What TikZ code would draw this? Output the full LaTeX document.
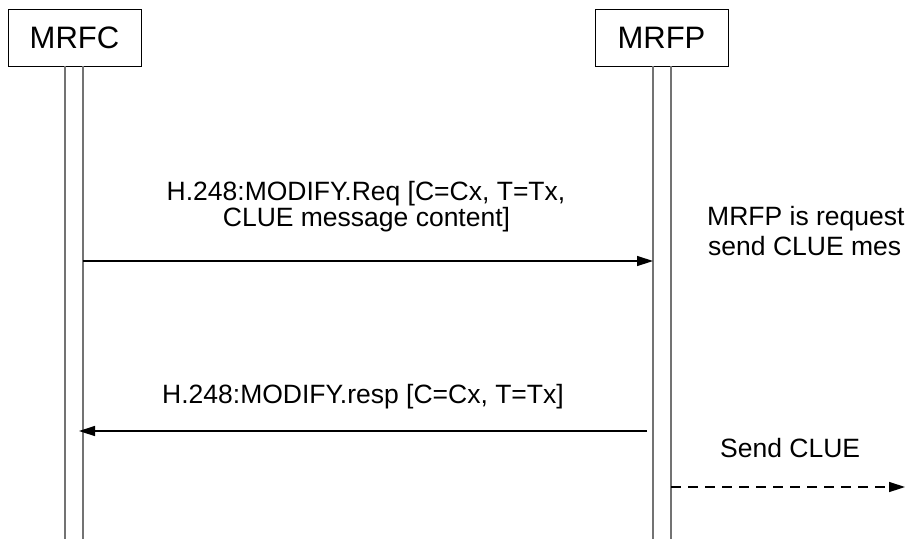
\documentclass[tikz,border=0pt]{standalone}
\usepackage{fontspec}
\setmainfont{Liberation Sans}
\usetikzlibrary{arrows.meta}
\begin{document}
\begin{tikzpicture}[x=1pt,y=-1pt,
  entity/.style={draw=black,line width=0.9pt,minimum width=133pt,minimum height=57pt,inner sep=0pt,font=\fontsize{31}{31}\selectfont},
  life/.style={draw=black!55,line width=1.3pt},
  msg/.style={draw=black,line width=1.4pt,-{Triangle[length=16pt,width=10pt]}},
  lbl/.style={inner sep=0pt,font=\fontsize{26.5}{26}\selectfont}]
\useasboundingbox (0,0) rectangle (905,539);
\begin{scope}
\clip (0,0) rectangle (905,539);
\node[entity] (mrfc) at (74.5,37.5) {MRFC};
\node[entity] (mrfp) at (661.5,37.5) {MRFP};
\coordinate (cL1) at (65,66); \coordinate (cL1b) at (65,539);
\coordinate (cR1) at (83,66); \coordinate (cR1b) at (83,539);
\coordinate (pL1) at (653,66); \coordinate (pL1b) at (653,539);
\coordinate (pR1) at (671,66); \coordinate (pR1b) at (671,539);
\draw[life] (cL1) -- (cL1b);
\draw[life] (cR1) -- (cR1b);
\draw[life] (pL1) -- (pL1b);
\draw[life] (pR1) -- (pR1b);
\coordinate (m1s) at (83,261); \coordinate (m1e) at (653,261);
\coordinate (m2s) at (647,431); \coordinate (m2e) at (79,431);
\coordinate (m3s) at (671,487); \coordinate (m3e) at (905,487);
\draw[msg] (m1s) -- (m1e);
\draw[msg] (m2s) -- (m2e);
\draw[msg,dash pattern=on 10pt off 7pt] (m3s) -- (m3e);
\node[lbl,anchor=base] (t1a) at (366,200) {H.248:MODIFY.Req [C=Cx, T=Tx,};
\node[lbl,anchor=base] (t1b) at (366.5,226) {CLUE message content]};
\node[lbl,anchor=base] (t2) at (363,403) {H.248:MODIFY.resp [C=Cx, T=Tx]};
\node[lbl,anchor=base west] (t3a) at (707,225) {MRFP is request};
\node[lbl,anchor=base west] (t3b) at (708,255) {send CLUE mes};
\node[lbl,anchor=base west] (t4) at (720,457) {Send CLUE};
\end{scope}
\end{tikzpicture}
\end{document}
